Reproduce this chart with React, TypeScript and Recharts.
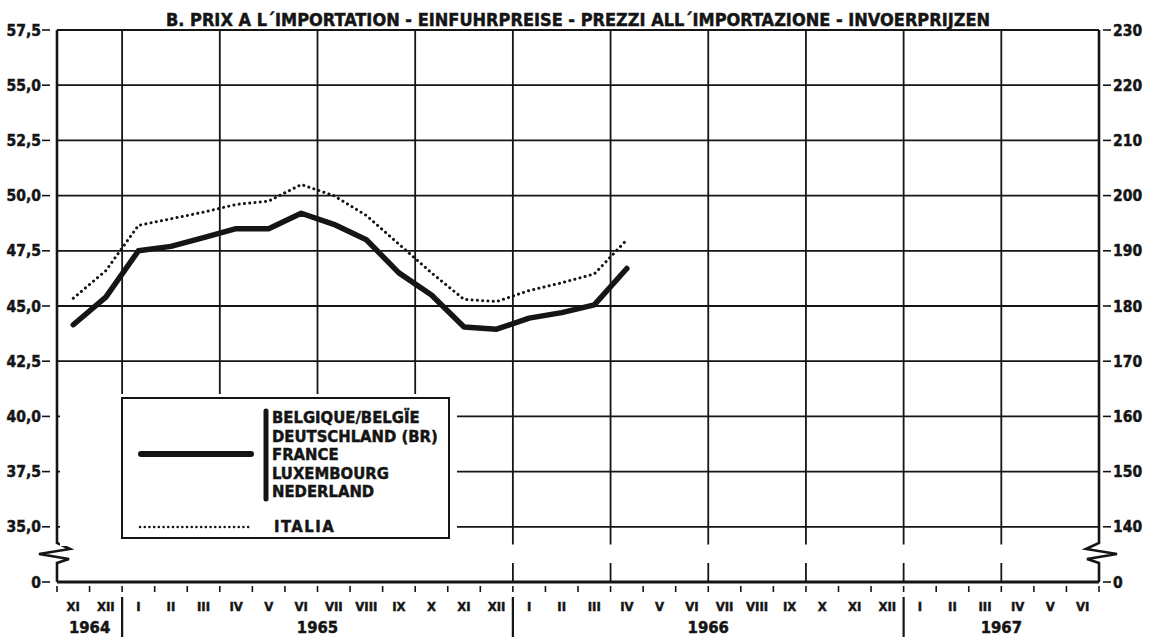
import { CartesianGrid, ComposedChart, Line, ReferenceLine, XAxis, YAxis } from 'recharts';

// months from XI 1964 to VI 1967, one slot each
const months = [
  'XI', 'XII',
  'I', 'II', 'III', 'IV', 'V', 'VI', 'VII', 'VIII', 'IX', 'X', 'XI', 'XII',
  'I', 'II', 'III', 'IV', 'V', 'VI', 'VII', 'VIII', 'IX', 'X', 'XI', 'XII',
  'I', 'II', 'III', 'IV', 'V', 'VI',
];
const years = ['1964', '1965', '1966', '1967'];
const yearCenters = [1, 8, 20, 29];
const yearBounds = [2, 14, 26];
const quarterLines = [2, 5, 8, 11, 14, 17, 20, 23, 26, 29];
const stubLines = [14, 17, 20, 23, 26, 29];

// value axis: lowest slot is drawn as "0" after the break
const yTicks = [32.5, 35, 37.5, 40, 42.5, 45, 47.5, 50, 52.5, 55, 57.5];

// monthly values XI 1964 .. IV 1966
const sixCountries = [44.15, 45.4, 47.5, 47.7, 48.1, 48.5, 48.5, 49.2, 48.7, 48.0, 46.5, 45.5, 44.05, 43.95, 44.45, 44.7, 45.05, 46.7];
const italia = [45.35, 46.6, 48.65, 48.95, 49.25, 49.6, 49.75, 50.5, 50.0, 49.1, 47.8, 46.5, 45.3, 45.2, 45.7, 46.05, 46.45, 48.0];

const legendCountries = ['BELGIQUE/BELGÏE', 'DEUTSCHLAND (BR)', 'FRANCE', 'LUXEMBOURG', 'NEDERLAND'];

const TITLE = 'B. PRIX A L´IMPORTATION - EINFUHRPREISE - PREZZI ALL´IMPORTAZIONE - INVOERPRIJZEN';
const FONT = '"DejaVu Sans Condensed", "DejaVu Sans", sans-serif';
const INK = '#151515';

const W = 1153;
const H = 637;

const data = sixCountries.map((v, i) => ({ m: i + 0.5, six: v, it: italia[i] }));
const xTicks = Array.from({ length: months.length * 2 + 1 }, (_, i) => i / 2);

const fmtLeft = (v: number) => (v === 32.5 ? '0' : v.toFixed(1).replace('.', ','));
const fmtRight = (v: number) => (v === 32.5 ? '0' : String(Math.round(v * 4)));

// heavier lettering, like the printed original
const txt = { fontFamily: FONT, fontWeight: 'bold', fill: INK, stroke: INK, strokeWidth: 0.45 } as const;

function LeftTick({ x, y, payload }: any) {
  return (
    <g>
      <line x1={x - 15} x2={x - 7} y1={y} y2={y} stroke={INK} strokeWidth={1.6} />
      <text x={x - 16} y={y + 5.5} textAnchor="end" fontSize={15.5} {...txt}>
        {fmtLeft(payload.value)}
      </text>
    </g>
  );
}

function RightTick({ x, y, payload }: any) {
  return (
    <g>
      <line x1={x + 4} x2={x + 12} y1={y} y2={y} stroke={INK} strokeWidth={1.6} />
      <text x={x + 14} y={y + 5.5} textAnchor="start" fontSize={15.5} {...txt}>
        {fmtRight(payload.value)}
      </text>
    </g>
  );
}

function MonthTick({ x, y, payload }: any) {
  const v = payload.value as number;
  if (Number.isInteger(v)) {
    const yi = yearCenters.indexOf(v);
    return (
      <g>
        <line x1={x} x2={x} y1={y + 4} y2={y + 10} stroke={INK} strokeWidth={1.6} />
        {yearBounds.includes(v) && <line x1={x} x2={x} y1={y + 15} y2={y + 56} stroke={INK} strokeWidth={2.2} />}
        {yi >= 0 && (
          <text x={x} y={y + 51} textAnchor="middle" fontSize={16.5} {...txt}>
            {years[yi]}
          </text>
        )}
      </g>
    );
  }
  return (
    <text x={x} y={y + 29} textAnchor="middle" fontSize={13} {...txt}>
      {months[Math.floor(v)]}
    </text>
  );
}

// axis line with the zigzag break just above the zero line
const brokenAxis = (side: 'left' | 'right') => (p: any) => {
  const { x1, y1, y2 } = p;
  const s = side === 'left' ? 1 : -1;
  const d = [
    `M${x1},${y1}`,
    `L${x1},${y2 - 39}`,
    `L${x1 + 13 * s},${y2 - 33}`,
    `L${x1 - 18 * s},${y2 - 28}`,
    `L${x1 + 12 * s},${y2 - 23}`,
    `L${x1},${y2 - 19}`,
    `L${x1},${y2}`,
  ].join(' ');
  return <path d={d} fill="none" stroke={INK} strokeWidth={2.6} strokeLinejoin="miter" />;
};

export default function App() {
  return (
    <div style={{ position: 'absolute', left: 0, top: 0, width: W, height: H, background: '#fff' }}>
      <ComposedChart width={W} height={H} data={data} margin={{ top: 30, right: 0, bottom: 0, left: 0 }}>
        <CartesianGrid vertical={false} stroke={INK} strokeWidth={1.8} />
        <XAxis
          dataKey="m"
          type="number"
          domain={[0, months.length]}
          ticks={xTicks}
          interval={0}
          height={55}
          tickSize={0}
          tickMargin={0}
          tickLine={false}
          axisLine={{ stroke: INK, strokeWidth: 3 }}
          tick={<MonthTick />}
        />
        <YAxis
          type="number"
          domain={[32.5, 57.5]}
          ticks={yTicks}
          interval={0}
          width={57}
          tickSize={0}
          tickMargin={0}
          tickLine={false}
          axisLine={false}
          tick={<LeftTick />}
        />
        <YAxis
          yAxisId="r"
          orientation="right"
          type="number"
          domain={[32.5, 57.5]}
          ticks={yTicks}
          interval={0}
          width={54}
          tickSize={0}
          tickMargin={0}
          tickLine={false}
          axisLine={false}
          tick={<RightTick />}
        />
        {quarterLines.map((q) => (
          <ReferenceLine key={`q${q}`} segment={[{ x: q, y: 57.5 }, { x: q, y: 34.2 }]} stroke={INK} strokeWidth={1.8} />
        ))}
        {stubLines.map((q) => (
          <ReferenceLine key={`s${q}`} segment={[{ x: q, y: 33.36 }, { x: q, y: 32.5 }]} stroke={INK} strokeWidth={1.8} />
        ))}
        <ReferenceLine segment={[{ x: 0, y: 57.5 }, { x: 0, y: 32.5 }]} shape={brokenAxis('left')} />
        <ReferenceLine segment={[{ x: months.length, y: 57.5 }, { x: months.length, y: 32.5 }]} shape={brokenAxis('right')} />
        {/* the right scale needs a series bound to it to be drawn */}
        <Line yAxisId="r" dataKey="six" stroke="none" dot={false} activeDot={false} legendType="none" isAnimationActive={false} />
        <Line
          dataKey="it"
          stroke={INK}
          strokeWidth={3}
          strokeDasharray="0.1 5.2"
          strokeLinecap="round"
          dot={false}
          activeDot={false}
          isAnimationActive={false}
        />
        <Line
          dataKey="six"
          stroke={INK}
          strokeWidth={5.5}
          strokeLinejoin="round"
          strokeLinecap="round"
          dot={false}
          activeDot={false}
          isAnimationActive={false}
        />
      </ComposedChart>

      <svg width={W} height={H} style={{ position: 'absolute', left: 0, top: 0, pointerEvents: 'none' }}>
        <text x={578} y={26} textAnchor="middle" fontSize={18} {...txt}>
          {TITLE}
        </text>
        {/* legend sits on a white patch that hides the grid behind it */}
        <rect x={60} y={394} width={397} height={152} fill="#fff" />
        <rect x={122} y={398} width={327} height={140} fill="#fff" stroke={INK} strokeWidth={2} />
        <line x1={141} x2={251} y1={454} y2={454} stroke={INK} strokeWidth={6} strokeLinecap="round" />
        <line x1={266} x2={266} y1={411} y2={499} stroke={INK} strokeWidth={5} strokeLinecap="round" />
        {legendCountries.map((c, i) => (
          <text key={c} x={272} y={423 + i * 18.5} fontSize={16.5} {...txt}>
            {c}
          </text>
        ))}
        <line x1={140} x2={252} y1={527} y2={527} stroke={INK} strokeWidth={2.5} strokeDasharray="0.1 4.6" strokeLinecap="round" />
        <text x={274} y={532} fontSize={16.5} letterSpacing={1.5} {...txt}>
          ITALIA
        </text>
      </svg>
    </div>
  );
}
